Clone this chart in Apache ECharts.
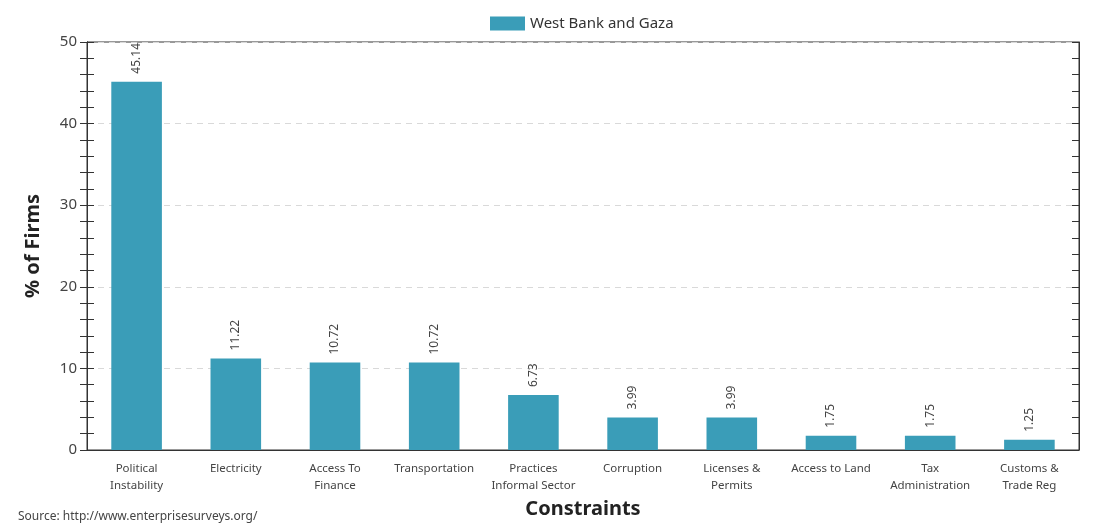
<!DOCTYPE html>
<html>
<head>
<meta charset="utf-8">
<script src="https://cdn.jsdelivr.net/npm/echarts@6/dist/echarts.min.js"></script>
<style>
  html, body { margin: 0; padding: 0; background: #fff; }
  #main { width: 1111px; height: 524px; }
</style>
</head>
<body>
<div id="main"></div>
<script>
// enterprise surveys - biggest obstacle
var categories = ['Political\nInstability', 'Electricity', 'Access To\nFinance', 'Transportation',
  'Practices\nInformal Sector', 'Corruption', 'Licenses &\nPermits', 'Access to Land',
  'Tax\nAdministration', 'Customs &\nTrade Reg'];
var values = [45.14, 11.22, 10.72, 10.72, 6.73, 3.99, 3.99, 1.75, 1.75, 1.25];
var seriesName = 'West Bank and Gaza';
var yTicks = [0, 10, 20, 30, 40, 50];

var font = "'Noto Sans', sans-serif";
var barColor = '#3a9db8';
var axisColor = '#333';

var chart = echarts.init(document.getElementById('main'));

function tickOnlyAxis(pos, inside) {
  return {
    type: 'value', position: pos, min: 0, max: 50, interval: 10,
    axisLine: { show: true, lineStyle: { color: axisColor } },
    axisTick: { show: true, inside: inside, length: 7, lineStyle: { color: axisColor } },
    minorTick: { show: true, splitNumber: 5, length: 7, lineStyle: { color: axisColor } },
    axisLabel: { show: false },
    splitLine: { show: false }
  };
}

var rightAxis = tickOnlyAxis('right', true);
var leftInner = tickOnlyAxis('left', true);

var option = {
  textStyle: { fontFamily: font },
  legend: {
    top: 11,
    left: 485,
    icon: 'rect',
    itemWidth: 35,
    itemHeight: 14,
    itemGap: 10,
    textStyle: { fontSize: 15, color: '#333', fontFamily: font },
    data: [seriesName]
  },
  grid: { left: 87, right: 32, top: 42, bottom: 74, show: true, borderColor: axisColor, borderWidth: 1 },
  xAxis: [{
    type: 'category',
    data: categories,
    name: 'Constraints',
    nameLocation: 'middle',
    nameGap: 46,
    nameTextStyle: { fontSize: 20, fontWeight: 'bold', color: '#222', fontFamily: font },
    axisLine: { lineStyle: { color: axisColor } },
    axisTick: { length: 8, lineStyle: { color: axisColor } },
    axisLabel: { fontSize: 11.5, color: '#444', lineHeight: 17, margin: 10, interval: 0 }
  }, {
    type: 'category',
    data: categories,
    position: 'bottom',
    axisLine: { show: false },
    axisTick: { inside: true, length: 7, lineStyle: { color: axisColor } },
    axisLabel: { show: false }
  }],
  yAxis: [{
    type: 'value',
    min: 0, max: 50, interval: 10,
    name: '% of Firms',
    nameLocation: 'middle',
    nameGap: 44,
    nameTextStyle: { fontSize: 20, fontWeight: 'bold', color: '#222', fontFamily: font },
    axisLine: { show: true, lineStyle: { color: axisColor } },
    axisTick: { show: true, length: 7, lineStyle: { color: axisColor } },
    minorTick: { show: true, splitNumber: 5, length: 7, lineStyle: { color: axisColor } },
    axisLabel: { fontSize: 15, color: '#444', margin: 10 },
    splitLine: { show: true, lineStyle: { color: '#d9d9d9', type: [6, 5] } }
  }, leftInner, rightAxis],
  series: [{
    name: seriesName,
    type: 'bar',
    data: values,
    barWidth: '51%',
    itemStyle: { color: barColor },
    label: {
      show: true,
      position: 'top',
      rotate: 90,
      align: 'left',
      verticalAlign: 'middle',
      distance: 8,
      fontSize: 12,
      color: '#444',
      formatter: function (p) { return p.value.toFixed(2); }
    }
  }],
  graphic: [{
    type: 'text',
    left: 18, top: 511,
    style: { text: 'Source: http://www.enterprisesurveys.org/', fontSize: 12, fill: '#444', fontFamily: font }
  }]
};

chart.setOption(option);
</script>
</body>
</html>
